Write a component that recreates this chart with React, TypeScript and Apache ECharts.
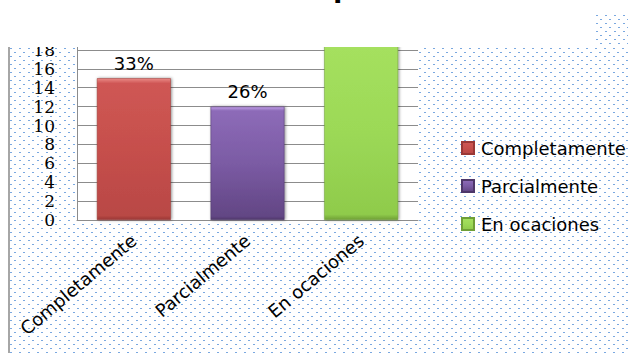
import React, { useEffect, useRef } from "react";
import * as echarts from "echarts";

const categories = ["Completamente", "Parcialmente", "En ocaciones"];
const values = [15, 12, 19];
const percentLabels = ["33%", "26%", "41%"];
const yTicks = { min: 0, max: 20, interval: 2 };

const palettes = [
  ["#ea8986", "#cf5754", "#c64f4c", "#b94845", "#9a3836"],
  ["#c3a0ea", "#8d6bb8", "#7b5ba4", "#624684", "#4e3769"],
  ["#cff59a", "#a5e05e", "#9cd957", "#8fcb4b", "#6f9f36"],
];

const dotSvg =
  "<svg xmlns='http://www.w3.org/2000/svg' width='9' height='8'>" +
  "<rect x='0' y='2' width='2' height='1' fill='#7aa8e0'/>" +
  "<rect x='4' y='6' width='2' height='1' fill='#7aa8e0'/></svg>";
const dotUrl = `url("data:image/svg+xml,${encodeURIComponent(dotSvg)}")`;

function grad(p: string[]) {
  return new echarts.graphic.LinearGradient(0, 0, 0, 1, [
    { offset: 0, color: p[0] },
    { offset: 0.035, color: p[1] },
    { offset: 0.5, color: p[2] },
    { offset: 0.97, color: p[3] },
    { offset: 1, color: p[4] },
  ]);
}

export default function App() {
  const ref = useRef<HTMLDivElement>(null);
  useEffect(() => {
    if (!ref.current) return;
    const chart = echarts.init(ref.current, null, { renderer: "svg" });
    const series = categories.map((name, i) => ({
      name,
      type: "bar",
      stack: "all",
      barWidth: "65%",
      data: values.map((v, j) => (j === i ? v : "-")),
      itemStyle: {
        color: grad(palettes[i]),
        borderColor: palettes[i][4],
        borderWidth: 0.5,
        shadowBlur: 3,
        shadowColor: "rgba(0,0,0,0.45)",
        shadowOffsetX: 1,
        shadowOffsetY: 0,
      },
      label: {
        // the third bar's label lies under the slide's title box in the reference
        show: i < 2,
        position: "top",
        distance: 6,
        formatter: () => percentLabels[i],
        fontFamily: "DejaVu Sans",
        fontSize: 18,
        color: "#000",
      },
    }));
    chart.setOption({
      animation: false,
      backgroundColor: "transparent",
      grid: {
        left: 77,
        right: 210,
        top: 31,
        bottom: 133,
        show: true,
        backgroundColor: "#ffffff",
        borderWidth: 0,
      },
      legend: {
        orient: "vertical",
        left: 456,
        top: 134,
        itemWidth: 12,
        itemHeight: 12,
        itemGap: 20,
        icon: "rect",
        textStyle: {
          fontFamily: "DejaVu Sans",
          fontSize: 18,
          color: "#000",
          padding: [0, 0, 0, 2],
        },
        data: categories,
      },
      xAxis: {
        type: "category",
        data: categories,
        axisLine: { show: true, lineStyle: { color: "#8c8c8c" } },
        axisTick: { show: false },
        axisLabel: {
          rotate: 40,
          margin: 18,
          fontFamily: "DejaVu Sans",
          fontSize: 18,
          color: "#000",
          interval: 0,
        },
      },
      yAxis: {
        type: "value",
        min: yTicks.min,
        max: yTicks.max,
        interval: yTicks.interval,
        axisLine: { show: true, lineStyle: { color: "#8c8c8c" } },
        axisTick: { show: false },
        splitLine: { lineStyle: { color: "#8c8c8c" } },
        axisLabel: {
          margin: 22,
          fontFamily: "DejaVu Serif",
          fontSize: 17,
          color: "#000",
        },
      },
      graphic: [
        {
          type: "rect",
          z: 100,
          shape: { x: 0, y: 0, width: 596, height: 47 },
          style: { fill: "#ffffff" },
        },
        {
          type: "rect",
          z: 100,
          shape: { x: 596, y: 0, width: 32, height: 13 },
          style: { fill: "#ffffff" },
        },
        {
          type: "text",
          z: 101,
          x: 333,
          y: -33,
          style: {
            text: "p",
            font: "bold 34px 'Liberation Sans'",
            fill: "#000",
          },
        },
      ],
      series,
    });
    return () => chart.dispose();
  }, []);

  return (
    <div
      style={{
        position: "absolute",
        left: 0,
        top: 0,
        width: 628,
        height: 353,
        background: "#ffffff",
        overflow: "hidden",
      }}
    >
      <div
        style={{
          position: "absolute",
          left: 10,
          top: 46,
          right: 0,
          bottom: 0,
          backgroundImage: dotUrl,
          backgroundRepeat: "repeat",
        }}
      />
      <div
        style={{
          position: "absolute",
          left: 596,
          top: 13,
          right: 0,
          height: 34,
          backgroundImage: dotUrl,
          backgroundRepeat: "repeat",
        }}
      />
      <div
        style={{
          position: "absolute",
          left: 8,
          top: 46,
          width: 2,
          bottom: 0,
          background: "#a6a6a6",
        }}
      />
      <div
        ref={ref}
        style={{ position: "absolute", left: 0, top: 0, width: 628, height: 353 }}
      />
    </div>
  );
}
